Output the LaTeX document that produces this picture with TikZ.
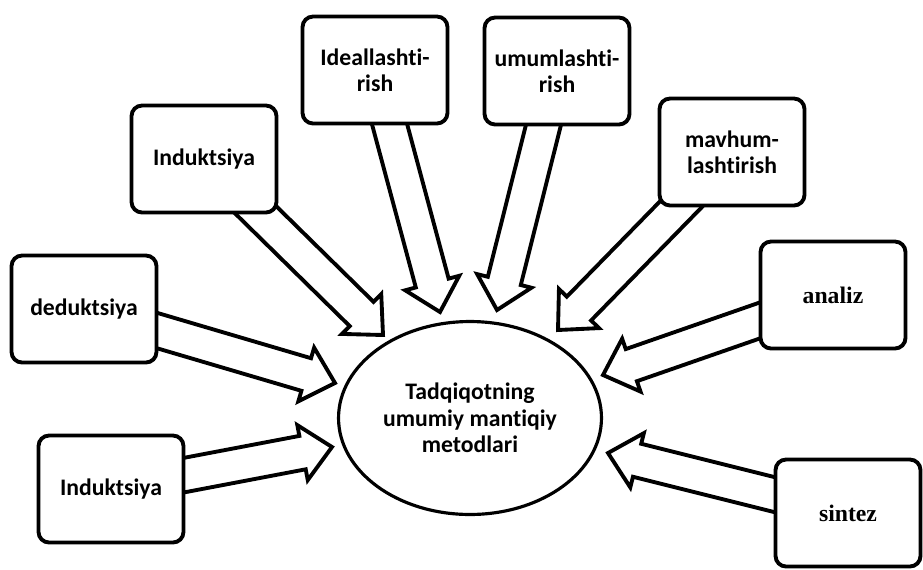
\documentclass[tikz,border=0pt]{standalone}
\usepackage{fontspec}
\setmainfont{Carlito}[Ligatures=NoCommon]
\newfontfamily\serifbold{Liberation Serif}
\usetikzlibrary{shapes.geometric,calc,backgrounds}

\begin{document}
\begin{tikzpicture}[x=0.02cm, y=-0.02cm,
    method/.style={draw, line width=2.2pt, rounded corners=6pt, fill=white, align=center,
        minimum width=2.9cm, minimum height=2.14cm, inner sep=2pt,
        font=\bfseries\fontsize{13.5}{15}\selectfont},
    serifmethod/.style={method, font=\serifbold\bfseries\fontsize{13.5}{15}\selectfont},
    centre/.style={draw, ellipse, line width=1.8pt, fill=white, align=center,
        minimum width=5.26cm, minimum height=3.86cm, inner sep=0pt,
        font=\bfseries\fontsize{13.5}{15}\selectfont},
    blockline/.style={draw, line width=2.2pt, fill=white, line join=miter}]
    \def\shaftHalf{0.34cm}
    \def\headHalf{0.56cm}
    \def\headLen{0.6cm}

    % Block arrow from a node to a tip coordinate
    \def\blockarrow#1#2{%
        \coordinate (h) at ($(#2)!\headLen!(#1)$);
        \draw[blockline] ($(#1)!\shaftHalf!90:(#2)$) -- ($(h)!\shaftHalf!-90:(#1)$)
            -- ($(h)!\headHalf!-90:(#1)$) -- (#2) -- ($(h)!\headHalf!90:(#1)$)
            -- ($(h)!\shaftHalf!90:(#1)$) -- ($(#1)!\shaftHalf!-90:(#2)$) -- cycle;}

    \useasboundingbox (0,0) rectangle (923,569);

    % Centre
    \node[centre] (metod) at (470,418) {Tadqiqotning\\umumiy mantiqiy\\metodlari};

    % Methods
    \node[method] (ideal) at (375,70) {Ideallashti-\\rish};
    \node[method] (umum) at (557,71) {umumlashti-\\rish};
    \node[method] (indA) at (204,159) {Induktsiya};
    \node[method] (mavhum) at (732,152) {mavhum-\\lashtirish};
    \node[method] (deduk) at (84,309) {deduktsiya};
    \node[method] (indB) at (111,489) {Induktsiya};
    \node[serifmethod] (analiz) at (833,295) {analiz};
    \node[serifmethod] (sintez) at (848,513) {sintez};

    % Arrow tips
    \coordinate (t-ideal) at (440,312);
    \coordinate (t-umum) at (497,310);
    \coordinate (t-indA) at (383,335);
    \coordinate (t-mavhum) at (558,330);
    \coordinate (t-deduk) at (335,383);
    \coordinate (t-indB) at (332,447);
    \coordinate (t-analiz) at (603,375);
    \coordinate (t-sintez) at (608,453);

    % Arrows
    \begin{scope}[on background layer]
        \foreach \m in {ideal,umum,indA,mavhum,deduk,indB,analiz,sintez}
            \blockarrow{\m}{t-\m};
    \end{scope}

\end{tikzpicture}
\end{document}
